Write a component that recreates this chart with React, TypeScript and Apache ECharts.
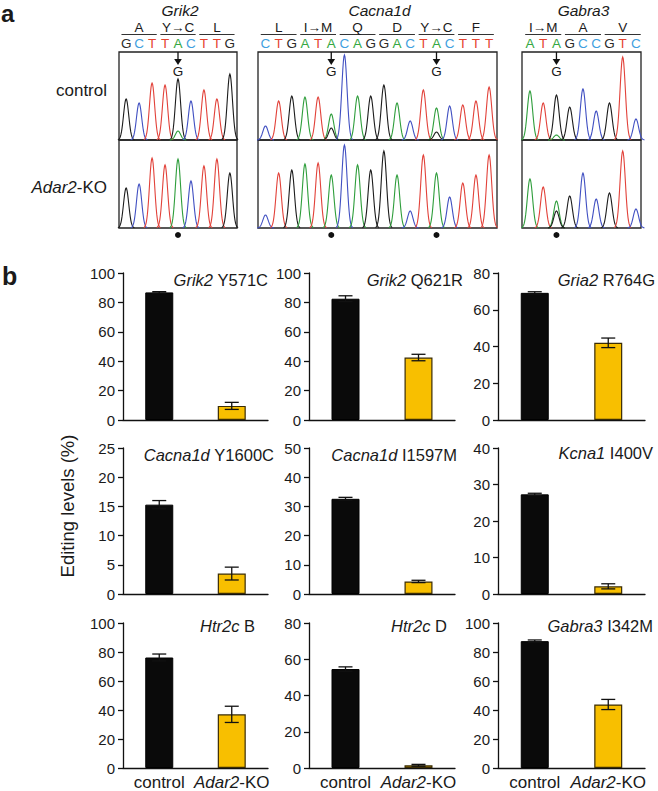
import React, { useEffect, useRef } from "react";
import * as echarts from "echarts";

const FONT = "'Liberation Sans', Arial, Helvetica, sans-serif";

// ---------------- panel a: sequencing traces ----------------
const grik2Bases = ["G", "C", "T", "T", "A", "C", "T", "T", "G"];
const grik2Codons: [string, number, number][] = [["A", 0, 2], ["Y→C", 3, 5], ["L", 6, 8]];
const grik2Edits = [4];
const grik2Control: [number, string, number][] = [
  [0, "G", 41], [1, "C", 37], [2, "T", 57], [3, "T", 55], [4, "G", 61], [4, "A", 9],
  [5, "C", 39], [6, "T", 50], [7, "T", 41], [8, "G", 66],
];
const grik2Ko: [number, string, number][] = [
  [0, "G", 40], [1, "C", 44], [2, "T", 70], [3, "T", 63], [4, "A", 69],
  [5, "C", 47], [6, "T", 62], [7, "T", 69], [8, "G", 55],
];

const cacna1dBases = ["C", "T", "G", "A", "T", "A", "C", "A", "G", "G", "A", "C", "T", "A", "C", "T", "T", "T"];
const cacna1dCodons: [string, number, number][] = [
  ["L", 0, 2], ["I→M", 3, 5], ["Q", 6, 8], ["D", 9, 11], ["Y→C", 12, 14], ["F", 15, 17],
];
const cacna1dEdits = [5, 13];
const cacna1dControl: [number, string, number][] = [
  [0, "C", 14], [1, "T", 39], [2, "G", 44], [3, "A", 43], [4, "T", 43], [5, "A", 26], [5, "G", 12],
  [6, "C", 85], [7, "A", 44], [8, "G", 44], [9, "G", 55], [10, "A", 37], [11, "C", 19],
  [12, "T", 50], [13, "A", 32], [13, "G", 8], [14, "C", 34], [15, "T", 35], [16, "T", 39], [17, "T", 53],
];
const cacna1dKo: [number, string, number][] = [
  [0, "C", 13], [1, "T", 55], [2, "G", 58], [3, "A", 64], [4, "T", 65], [5, "A", 53],
  [6, "C", 83], [7, "A", 63], [8, "G", 58], [9, "G", 77], [10, "A", 53], [11, "C", 17],
  [12, "T", 73], [13, "A", 55], [14, "C", 31], [15, "T", 45], [16, "T", 53], [17, "T", 73],
];

const gabra3Bases = ["A", "T", "A", "G", "C", "C", "G", "T", "C"];
const gabra3Codons: [string, number, number][] = [["I→M", 0, 2], ["A", 3, 5], ["V", 6, 8]];
const gabra3Edits = [2];
const gabra3Control: [number, string, number][] = [
  [0, "A", 49], [1, "T", 37], [2, "G", 45], [2, "A", 5], [3, "G", 33], [4, "C", 51],
  [5, "C", 29], [6, "G", 37], [7, "T", 83], [8, "C", 21],
];
const gabra3Ko: [number, string, number][] = [
  [0, "A", 49], [1, "T", 41], [2, "A", 27], [2, "G", 17], [3, "G", 32], [4, "C", 55],
  [5, "C", 29], [6, "G", 35], [7, "T", 77], [8, "C", 19],
];

// ---------------- panel b: editing levels ----------------
const groups = ["control", "Adar2-KO"];
const panelGenes = ["Grik2", "Grik2", "Gria2", "Cacna1d", "Cacna1d", "Kcna1", "Htr2c", "Htr2c", "Gabra3"];
const panelSites = ["Y571C", "Q621R", "R764G", "Y1600C", "I1597M", "I400V", "B", "D", "I342M"];
const axisMax = [100, 100, 80, 25, 50, 40, 100, 80, 100];
const axisStep = [20, 20, 20, 5, 10, 10, 20, 20, 20];
const controlMeans = [86.8, 82.5, 69.2, 15.3, 32.6, 27.3, 76.2, 54.6, 87.5];
const controlErrs = [0.5, 2.0, 0.6, 0.7, 0.5, 0.3, 2.4, 1.2, 0.8];
const koMeans = [9.6, 42.5, 42.0, 3.5, 4.3, 2.1, 37.0, 1.5, 43.8];
const koErrs = [2.4, 2.2, 2.6, 1.1, 0.4, 0.7, 5.6, 0.5, 3.5];

const TRACE: Record<string, string> = { A: "#2f9e3c", C: "#4150c2", G: "#1c1c1c", T: "#e2423a" };
const LETTER: Record<string, string> = { A: "#35a843", C: "#3f9fe0", G: "#2a2a2a", T: "#e5432f" };
const SIGMA = 0.2;
const HALF = 88;
const CHROM_TOP = 52;

export default function App() {
  const ref = useRef<HTMLDivElement>(null);
  useEffect(() => {
    if (!ref.current) return;
    const chart = echarts.init(ref.current, undefined, { renderer: "svg" });

    const panels = [
      { title: "Grik2", bases: grik2Bases, codons: grik2Codons, edits: grik2Edits, ctrl: grik2Control, ko: grik2Ko, left: 119, width: 118, xmin: -0.55, xmax: 8.55 },
      { title: "Cacna1d", bases: cacna1dBases, codons: cacna1dCodons, edits: cacna1dEdits, ctrl: cacna1dControl, ko: cacna1dKo, left: 258, width: 239, xmin: -0.57, xmax: 17.6 },
      { title: "Gabra3", bases: gabra3Bases, codons: gabra3Codons, edits: gabra3Edits, ctrl: gabra3Control, ko: gabra3Ko, left: 522, width: 119, xmin: -0.6, xmax: 8.38 },
    ];

    const grids: any[] = [];
    const xAxes: any[] = [];
    const yAxes: any[] = [];
    const series: any[] = [];
    const graphics: any[] = [];

    const txt = (text: string, x: number, y: number, size: number, opts: any = {}) => ({
      type: "text",
      x,
      y,
      silent: true,
      rotation: opts.rotation || 0,
      style: {
        text,
        fill: opts.fill || "#1a1a1a",
        font: `${opts.weight || "normal"} ${opts.italic ? "italic" : ""} ${size}px ${FONT}`,
        textAlign: opts.align || "center",
        textVerticalAlign: "middle",
        align: opts.align || "center",
        verticalAlign: "middle",
        rich: opts.rich,
      },
    });

    panels.forEach((p) => {
      [p.ctrl, p.ko].forEach((peaks, hi) => {
        const gi = grids.length;
        grids.push({
          left: p.left, top: CHROM_TOP + hi * HALF, width: p.width, height: HALF,
          show: true, borderColor: "#222", borderWidth: 1.3, backgroundColor: "rgba(0,0,0,0)",
        });
        xAxes.push({ type: "value", gridIndex: gi, min: p.xmin, max: p.xmax, show: false });
        yAxes.push({ type: "value", gridIndex: gi, min: 0, max: HALF, show: false });
        series.push({
          type: "custom", xAxisIndex: gi, yAxisIndex: gi, silent: true,
          data: peaks.map((pk) => [pk[0], pk[2]]),
          renderItem: (params: any, api: any) => {
            const pk = peaks[params.dataIndex];
            const pos = api.value(0);
            const h = api.value(1);
            const pts: number[][] = [];
            for (let k = -16; k <= 16; k++) {
              const dx = (k * SIGMA * 3.2) / 16;
              pts.push(api.coord([pos + dx, h * Math.exp(-(dx * dx) / (2 * SIGMA * SIGMA))]));
            }
            return { type: "polyline", shape: { points: pts }, style: { stroke: TRACE[pk[1]], fill: "none", lineWidth: 1.1 } };
          },
        });
        if (hi === 0) {
          // nucleotide letters
          series.push({
            type: "custom", xAxisIndex: gi, yAxisIndex: gi, silent: true, clip: false,
            data: p.bases.map((_, i) => [i, HALF]),
            renderItem: (params: any, api: any) => {
              const b = p.bases[params.dataIndex];
              const c = api.coord([api.value(0), api.value(1)]);
              return {
                type: "text", x: c[0], y: c[1] - 9,
                style: { text: b, fill: LETTER[b], font: `13.5px ${FONT}`, textAlign: "center", textVerticalAlign: "middle", align: "center", verticalAlign: "middle" },
              };
            },
          });
          // amino acids
          series.push({
            type: "custom", xAxisIndex: gi, yAxisIndex: gi, silent: true, clip: false,
            data: p.codons.map((c) => [c[1], c[2], HALF]),
            renderItem: (params: any, api: any) => {
              const label = p.codons[params.dataIndex][0];
              const a = api.coord([api.value(0) - 0.36, api.value(2)]);
              const b = api.coord([api.value(1) + 0.36, api.value(2)]);
              const y = a[1];
              return {
                type: "group",
                children: [
                  { type: "line", shape: { x1: a[0], y1: y - 17.5, x2: b[0], y2: y - 17.5 }, style: { stroke: "#333", lineWidth: 1.2 } },
                  {
                    type: "text", x: (a[0] + b[0]) / 2, y: y - 24.5,
                    style: { text: label, fill: "#1a1a1a", font: `13.5px ${FONT}`, textAlign: "center", textVerticalAlign: "middle", align: "center", verticalAlign: "middle" },
                  },
                ],
              };
            },
          });
          // editing arrows
          series.push({
            type: "custom", xAxisIndex: gi, yAxisIndex: gi, silent: true, clip: false,
            data: p.edits.map((e) => [e, HALF]),
            renderItem: (params: any, api: any) => {
              const c = api.coord([api.value(0), api.value(1)]);
              const x = c[0];
              const y = c[1];
              return {
                type: "group",
                children: [
                  { type: "line", shape: { x1: x, y1: y, x2: x, y2: y + 9 }, style: { stroke: "#111", lineWidth: 1.3 } },
                  { type: "polygon", shape: { points: [[x - 3.8, y + 7], [x + 3.8, y + 7], [x, y + 13]] }, style: { fill: "#111" } },
                  {
                    type: "text", x, y: y + 19,
                    style: { text: "G", fill: "#1a1a1a", font: `13.5px ${FONT}`, textAlign: "center", textVerticalAlign: "middle", align: "center", verticalAlign: "middle" },
                  },
                ],
              };
            },
          });
        } else {
          series.push({
            type: "custom", xAxisIndex: gi, yAxisIndex: gi, silent: true, clip: false,
            data: p.edits.map((e) => [e, 0]),
            renderItem: (params: any, api: any) => {
              const c = api.coord([api.value(0), api.value(1)]);
              return { type: "circle", shape: { cx: c[0], cy: c[1] + 7, r: 3 }, style: { fill: "#111" } };
            },
          });
        }
      });
      const cx = p.left + p.width / 2 + 2;
      graphics.push(txt(p.title, cx, 10, 15.5, { italic: true }));
    });

    graphics.push(txt("a", 1, 13, 24, { weight: "bold", align: "left" }));
    graphics.push(txt("control", 107, 90, 17, { align: "right" }));
    graphics.push(
      txt("{i|Adar2}-KO", 107, 187, 17, {
        align: "right",
        rich: { i: { fontStyle: "italic", fontSize: 17, fontFamily: FONT, fill: "#1a1a1a" } },
      })
    );

    // panel b
    const colLeft = [123, 309, 498];
    const colWidth = [145, 146, 147];
    const rowTop = [273, 448, 623];
    const rowHeight = [147, 146, 147];
    const titlePos = [
      [268, 280], [463, 280], [655, 280],
      [274, 455], [457, 455], [653, 453],
      [255, 626], [447, 626], [653, 626],
    ];

    panelGenes.forEach((gene, k) => {
      const r = Math.floor(k / 3);
      const c = k % 3;
      const gi = grids.length;
      grids.push({ left: colLeft[c], top: rowTop[r], width: colWidth[c], height: rowHeight[r] });
      xAxes.push({
        type: "category", gridIndex: gi, data: groups, boundaryGap: true,
        axisLine: { show: true, lineStyle: { color: "#111", width: 1.3 } },
        axisTick: { show: false },
        axisLabel: {
          show: r === 2, fontSize: 17, color: "#1a1a1a", fontFamily: FONT, margin: 6, interval: 0,
          formatter: (v: string) => (v === "Adar2-KO" ? "{i|Adar2}-KO" : v),
          rich: { i: { fontStyle: "italic", fontSize: 17, fontFamily: FONT, color: "#1a1a1a" } },
        },
      });
      yAxes.push({
        type: "value", gridIndex: gi, min: 0, max: axisMax[k], interval: axisStep[k],
        axisLine: { show: true, lineStyle: { color: "#111", width: 1.3 } },
        axisTick: { show: true, length: 5, inside: false, lineStyle: { color: "#111", width: 1.3 } },
        splitLine: { show: false },
        axisLabel: { fontSize: 15, color: "#1a1a1a", fontFamily: FONT, margin: 8 },
      });
      series.push({
        type: "bar", xAxisIndex: gi, yAxisIndex: gi, barWidth: 28, silent: true,
        data: [
          { value: controlMeans[k], itemStyle: { color: "#0a0a0a", borderColor: "#000", borderWidth: 1 } },
          { value: koMeans[k], itemStyle: { color: "#f8bf00", borderColor: "#3a2c05", borderWidth: 1.2 } },
        ],
        z: 2,
      });
      const errs = [controlErrs[k], koErrs[k]];
      series.push({
        type: "custom", xAxisIndex: gi, yAxisIndex: gi, silent: true, z: 5,
        data: [[0, controlMeans[k], controlErrs[k]], [1, koMeans[k], koErrs[k]]],
        renderItem: (params: any, api: any) => {
          const x = api.value(0);
          const m = api.value(1);
          const e = errs[params.dataIndex];
          const hi = api.coord([x, m + e]);
          const lo = api.coord([x, m - e]);
          const w = 7;
          const st = { stroke: "#111", lineWidth: 1.3 };
          return {
            type: "group",
            children: [
              { type: "line", shape: { x1: hi[0], y1: hi[1], x2: lo[0], y2: lo[1] }, style: st },
              { type: "line", shape: { x1: hi[0] - w, y1: hi[1], x2: hi[0] + w, y2: hi[1] }, style: st },
              { type: "line", shape: { x1: lo[0] - w, y1: lo[1], x2: lo[0] + w, y2: lo[1] }, style: st },
            ],
          };
        },
      });
      graphics.push(
        txt(`{g|${gene}} ${panelSites[k]}`, titlePos[k][0], titlePos[k][1], 16.5, {
          align: "right",
          rich: { g: { fontStyle: "italic", fontSize: 16.5, fontFamily: FONT, fill: "#1a1a1a" } },
        })
      );
    });

    graphics.push(txt("b", 2, 276, 25, { weight: "bold", align: "left" }));
    graphics.push(txt("Editing levels (%)", 67, 506, 18.5, { rotation: Math.PI / 2 }));

    chart.setOption({
      animation: false,
      backgroundColor: "#ffffff",
      grid: grids,
      xAxis: xAxes,
      yAxis: yAxes,
      series,
      graphic: graphics,
    });
    return () => chart.dispose();
  }, []);

  return <div ref={ref} style={{ position: "absolute", left: 0, top: 0, width: 658, height: 791 }} />;
}
